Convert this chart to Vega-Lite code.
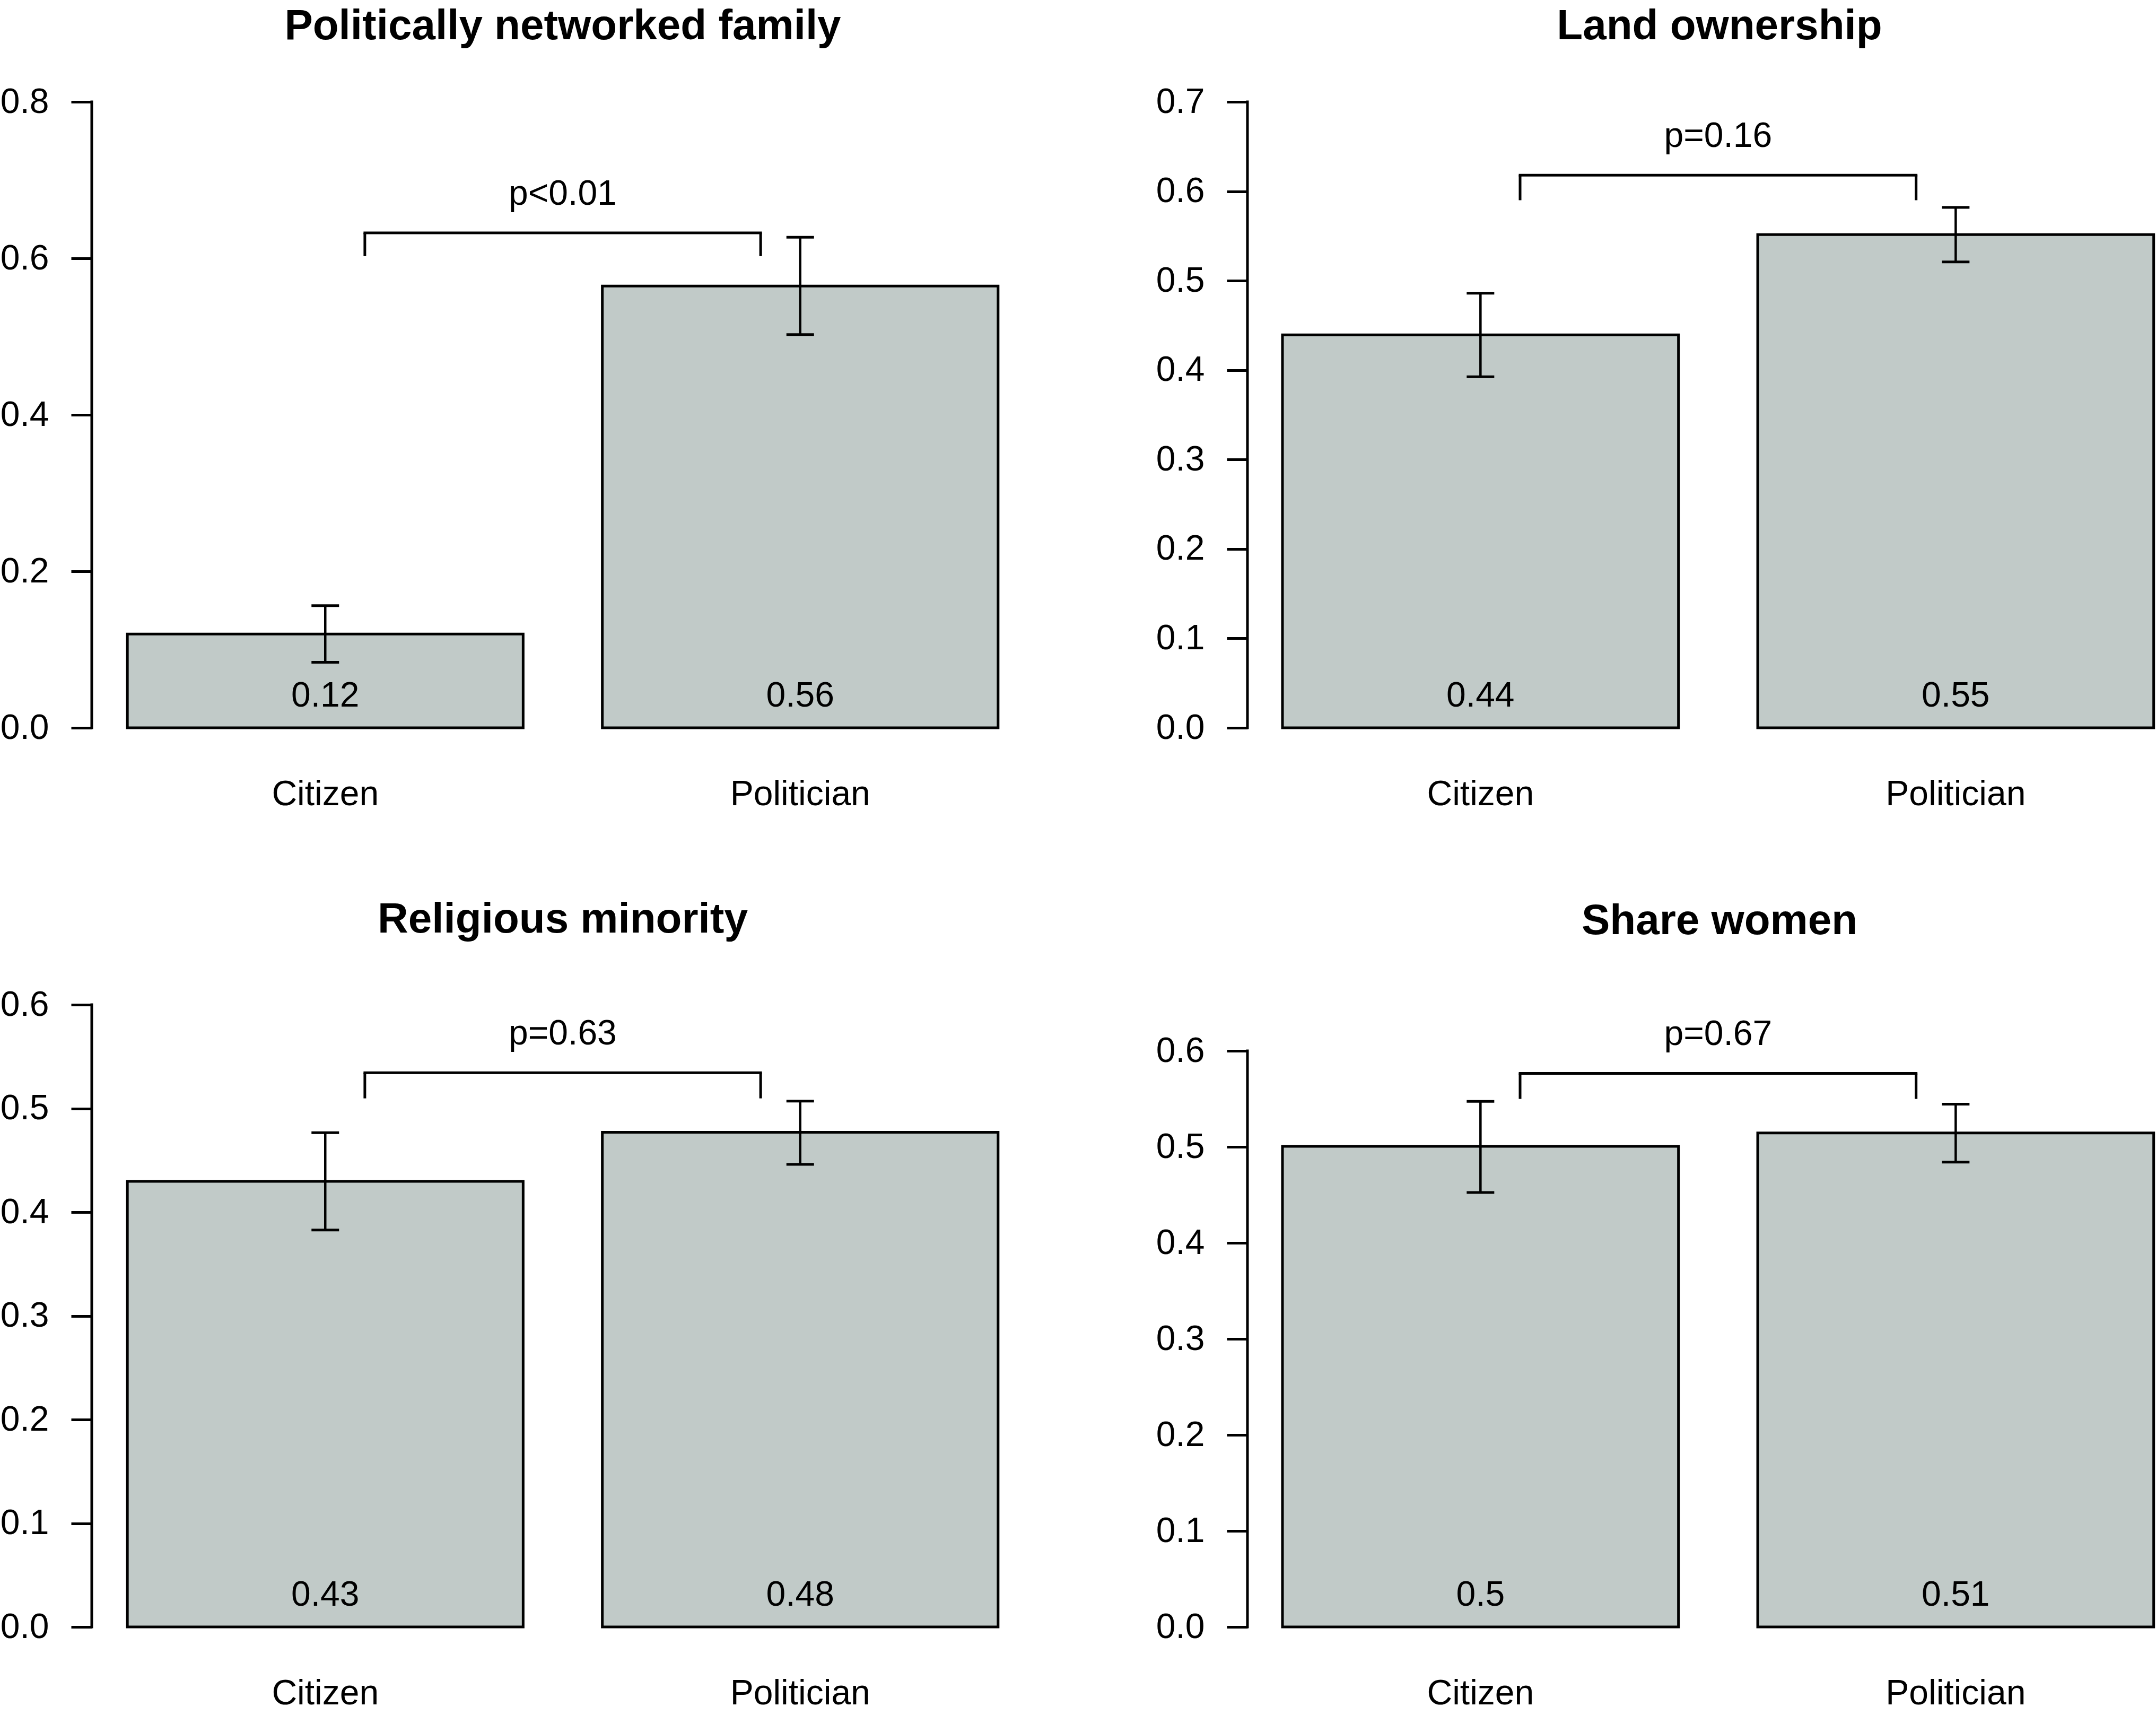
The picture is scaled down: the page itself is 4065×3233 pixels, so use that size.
{
  "$schema": "https://vega.github.io/schema/vega-lite/v6.json",
  "background": "white",
  "padding": {"left": 0, "top": 10, "right": 0, "bottom": 0},
  "autosize": {"type": "pad"},
  "columns": 2,
  "bounds": "flush",
  "align": "each",
  "spacing": {"row": 515, "column": 403},
  "datasets": {
    "bars": [
      {"panel": "Politically networked family", "group": "Citizen", "mean": 0.1198, "lo": 0.0838, "hi": 0.1561},
      {"panel": "Politically networked family", "group": "Politician", "mean": 0.5645, "lo": 0.5026, "hi": 0.6269},
      {"panel": "Land ownership", "group": "Citizen", "mean": 0.4395, "lo": 0.3926, "hi": 0.486},
      {"panel": "Land ownership", "group": "Politician", "mean": 0.5516, "lo": 0.521, "hi": 0.582},
      {"panel": "Religious minority", "group": "Citizen", "mean": 0.4297, "lo": 0.3828, "hi": 0.4766},
      {"panel": "Religious minority", "group": "Politician", "mean": 0.477, "lo": 0.4461, "hi": 0.507},
      {"panel": "Share women", "group": "Citizen", "mean": 0.5006, "lo": 0.4526, "hi": 0.5475},
      {"panel": "Share women", "group": "Politician", "mean": 0.5146, "lo": 0.4841, "hi": 0.5445}
    ],
    "brackets": [
      {"panel": "Politically networked family", "left": "Citizen", "right": "Politician", "top": 0.6326, "foot": 0.6028, "p": "p<0.01"},
      {"panel": "Land ownership", "left": "Citizen", "right": "Politician", "top": 0.618, "foot": 0.59, "p": "p=0.16"},
      {"panel": "Religious minority", "left": "Citizen", "right": "Politician", "top": 0.5344, "foot": 0.5097, "p": "p=0.63"},
      {"panel": "Share women", "left": "Citizen", "right": "Politician", "top": 0.5766, "foot": 0.55, "p": "p=0.67"}
    ]
  },
  "config": {
    "view": {"stroke": null},
    "font": "Liberation Sans",
    "axis": {
      "grid": false,
      "domain": false,
      "labelFont": "Liberation Sans",
      "labelFontSize": 66,
      "labelColor": "black",
      "labelLimit": 1000,
      "tickColor": "black",
      "tickWidth": 5,
      "labelOverlap": false,
      "labelFlush": false,
      "labelBound": false
    },
    "axisY": {"tickSize": 39, "labelPadding": 42},
    "axisX": {"ticks": false, "tickSize": 0, "labelPadding": 145, "labelBaseline": "alphabetic", "labelAngle": 0},
    "title": {
      "font": "Liberation Sans",
      "fontSize": 80,
      "fontWeight": "bold",
      "color": "black",
      "baseline": "alphabetic",
      "frame": "group",
      "anchor": "middle",
      "limit": 0
    },
    "text": {"font": "Liberation Sans", "fontSize": 66, "color": "black", "baseline": "alphabetic"}
  },
  "concat": [
    {
      "width": 1776,
      "height": 1180,
      "title": {"text": "Politically networked family", "offset": 68},
      "encoding": {
        "x": {"field": "group", "type": "nominal", "title": null, "scale": {"paddingInner": 0.1667, "paddingOuter": 0.075}}
      },
      "layer": [
        {
          "data": {"name": "brackets"},
          "transform": [{"filter": "datum.panel == 'Politically networked family'"}],
          "mark": {"type": "rule", "color": "black", "strokeWidth": 5, "strokeCap": "square"},
          "encoding": {
            "x": {"value": 0},
            "y": {"datum": 0, "type": "quantitative", "scale": {"domain": [0, 0.8], "nice": false}},
            "y2": {"datum": 0.8}
          }
        },
        {
          "data": {"name": "bars"},
          "transform": [{"filter": "datum.panel == 'Politically networked family'"}],
          "mark": {"type": "bar", "fill": "#c1cac8", "stroke": "black", "strokeWidth": 5},
          "encoding": {
            "y": {"field": "mean", "type": "quantitative", "title": null, "scale": {"domain": [0, 0.8], "nice": false}, "axis": {"values": [0, 0.2, 0.4, 0.6, 0.8], "format": ".1f"}}
          }
        },
        {
          "data": {"name": "bars"},
          "transform": [{"filter": "datum.panel == 'Politically networked family'"}],
          "mark": {"type": "rule", "color": "black", "strokeWidth": 4.5},
          "encoding": {
            "y": {"field": "lo", "type": "quantitative", "title": null, "scale": {"domain": [0, 0.8], "nice": false}},
            "y2": {"field": "hi"}
          }
        },
        {
          "data": {"name": "bars"},
          "transform": [{"filter": "datum.panel == 'Politically networked family'"}],
          "mark": {"type": "tick", "size": 52, "thickness": 5, "color": "black", "opacity": 1},
          "encoding": {
            "y": {"field": "lo", "type": "quantitative", "title": null, "scale": {"domain": [0, 0.8], "nice": false}}
          }
        },
        {
          "data": {"name": "bars"},
          "transform": [{"filter": "datum.panel == 'Politically networked family'"}],
          "mark": {"type": "tick", "size": 52, "thickness": 5, "color": "black", "opacity": 1},
          "encoding": {
            "y": {"field": "hi", "type": "quantitative", "title": null, "scale": {"domain": [0, 0.8], "nice": false}}
          }
        },
        {
          "data": {"name": "bars"},
          "transform": [{"filter": "datum.panel == 'Politically networked family'"}],
          "mark": {"type": "text", "dy": -40},
          "encoding": {
            "y": {"datum": 0, "type": "quantitative", "scale": {"domain": [0, 0.8], "nice": false}},
            "text": {"field": "mean", "type": "quantitative", "format": ".2~f"}
          }
        },
        {
          "data": {"name": "brackets"},
          "transform": [{"filter": "datum.panel == 'Politically networked family'"}],
          "mark": {"type": "rule", "color": "black", "strokeWidth": 5, "strokeCap": "square"},
          "encoding": {
            "x": {"field": "left", "type": "nominal", "title": null, "bandPosition": 0.6},
            "x2": {"field": "right", "bandPosition": 0.4},
            "y": {"field": "top", "type": "quantitative", "title": null, "scale": {"domain": [0, 0.8], "nice": false}}
          }
        },
        {
          "data": {"name": "brackets"},
          "transform": [{"filter": "datum.panel == 'Politically networked family'"}],
          "mark": {"type": "rule", "color": "black", "strokeWidth": 5},
          "encoding": {
            "x": {"field": "left", "type": "nominal", "title": null, "bandPosition": 0.6},
            "y": {"field": "top", "type": "quantitative", "title": null, "scale": {"domain": [0, 0.8], "nice": false}},
            "y2": {"field": "foot"}
          }
        },
        {
          "data": {"name": "brackets"},
          "transform": [{"filter": "datum.panel == 'Politically networked family'"}],
          "mark": {"type": "rule", "color": "black", "strokeWidth": 5},
          "encoding": {
            "x": {"field": "right", "type": "nominal", "title": null, "bandPosition": 0.4},
            "y": {"field": "top", "type": "quantitative", "title": null, "scale": {"domain": [0, 0.8], "nice": false}},
            "y2": {"field": "foot"}
          }
        },
        {
          "data": {"name": "brackets"},
          "transform": [{"filter": "datum.panel == 'Politically networked family'"}],
          "mark": {"type": "text", "dy": -53},
          "encoding": {
            "x": {"field": "left", "type": "nominal", "title": null, "bandPosition": 1.1},
            "y": {"field": "top", "type": "quantitative", "title": null, "scale": {"domain": [0, 0.8], "nice": false}},
            "text": {"field": "p"}
          }
        }
      ]
    },
    {
      "width": 1712,
      "height": 1180,
      "title": {"text": "Land ownership", "dx": 34, "offset": 68},
      "encoding": {
        "x": {"field": "group", "type": "nominal", "title": null, "scale": {"paddingInner": 0.1667, "paddingOuter": 0.0387, "align": 0.952}}
      },
      "layer": [
        {
          "data": {"name": "brackets"},
          "transform": [{"filter": "datum.panel == 'Land ownership'"}],
          "mark": {"type": "rule", "color": "black", "strokeWidth": 5, "strokeCap": "square"},
          "encoding": {
            "x": {"value": 0},
            "y": {"datum": 0, "type": "quantitative", "scale": {"domain": [0, 0.7], "nice": false}},
            "y2": {"datum": 0.7}
          }
        },
        {
          "data": {"name": "bars"},
          "transform": [{"filter": "datum.panel == 'Land ownership'"}],
          "mark": {"type": "bar", "fill": "#c1cac8", "stroke": "black", "strokeWidth": 5},
          "encoding": {
            "y": {"field": "mean", "type": "quantitative", "title": null, "scale": {"domain": [0, 0.7], "nice": false}, "axis": {"values": [0, 0.1, 0.2, 0.3, 0.4, 0.5, 0.6, 0.7], "format": ".1f"}}
          }
        },
        {
          "data": {"name": "bars"},
          "transform": [{"filter": "datum.panel == 'Land ownership'"}],
          "mark": {"type": "rule", "color": "black", "strokeWidth": 4.5},
          "encoding": {
            "y": {"field": "lo", "type": "quantitative", "title": null, "scale": {"domain": [0, 0.7], "nice": false}},
            "y2": {"field": "hi"}
          }
        },
        {
          "data": {"name": "bars"},
          "transform": [{"filter": "datum.panel == 'Land ownership'"}],
          "mark": {"type": "tick", "size": 52, "thickness": 5, "color": "black", "opacity": 1},
          "encoding": {
            "y": {"field": "lo", "type": "quantitative", "title": null, "scale": {"domain": [0, 0.7], "nice": false}}
          }
        },
        {
          "data": {"name": "bars"},
          "transform": [{"filter": "datum.panel == 'Land ownership'"}],
          "mark": {"type": "tick", "size": 52, "thickness": 5, "color": "black", "opacity": 1},
          "encoding": {
            "y": {"field": "hi", "type": "quantitative", "title": null, "scale": {"domain": [0, 0.7], "nice": false}}
          }
        },
        {
          "data": {"name": "bars"},
          "transform": [{"filter": "datum.panel == 'Land ownership'"}],
          "mark": {"type": "text", "dy": -40},
          "encoding": {
            "y": {"datum": 0, "type": "quantitative", "scale": {"domain": [0, 0.7], "nice": false}},
            "text": {"field": "mean", "type": "quantitative", "format": ".2~f"}
          }
        },
        {
          "data": {"name": "brackets"},
          "transform": [{"filter": "datum.panel == 'Land ownership'"}],
          "mark": {"type": "rule", "color": "black", "strokeWidth": 5, "strokeCap": "square"},
          "encoding": {
            "x": {"field": "left", "type": "nominal", "title": null, "bandPosition": 0.6},
            "x2": {"field": "right", "bandPosition": 0.4},
            "y": {"field": "top", "type": "quantitative", "title": null, "scale": {"domain": [0, 0.7], "nice": false}}
          }
        },
        {
          "data": {"name": "brackets"},
          "transform": [{"filter": "datum.panel == 'Land ownership'"}],
          "mark": {"type": "rule", "color": "black", "strokeWidth": 5},
          "encoding": {
            "x": {"field": "left", "type": "nominal", "title": null, "bandPosition": 0.6},
            "y": {"field": "top", "type": "quantitative", "title": null, "scale": {"domain": [0, 0.7], "nice": false}},
            "y2": {"field": "foot"}
          }
        },
        {
          "data": {"name": "brackets"},
          "transform": [{"filter": "datum.panel == 'Land ownership'"}],
          "mark": {"type": "rule", "color": "black", "strokeWidth": 5},
          "encoding": {
            "x": {"field": "right", "type": "nominal", "title": null, "bandPosition": 0.4},
            "y": {"field": "top", "type": "quantitative", "title": null, "scale": {"domain": [0, 0.7], "nice": false}},
            "y2": {"field": "foot"}
          }
        },
        {
          "data": {"name": "brackets"},
          "transform": [{"filter": "datum.panel == 'Land ownership'"}],
          "mark": {"type": "text", "dy": -53},
          "encoding": {
            "x": {"field": "left", "type": "nominal", "title": null, "bandPosition": 1.1},
            "y": {"field": "top", "type": "quantitative", "title": null, "scale": {"domain": [0, 0.7], "nice": false}},
            "text": {"field": "p"}
          }
        }
      ]
    },
    {
      "width": 1776,
      "height": 1180,
      "title": {"text": "Religious minority", "offset": 86},
      "encoding": {
        "x": {"field": "group", "type": "nominal", "title": null, "scale": {"paddingInner": 0.1667, "paddingOuter": 0.075}}
      },
      "layer": [
        {
          "data": {"name": "brackets"},
          "transform": [{"filter": "datum.panel == 'Religious minority'"}],
          "mark": {"type": "rule", "color": "black", "strokeWidth": 5, "strokeCap": "square"},
          "encoding": {
            "x": {"value": 0},
            "y": {"datum": 0, "type": "quantitative", "scale": {"domain": [0, 0.6036], "nice": false}},
            "y2": {"datum": 0.6}
          }
        },
        {
          "data": {"name": "bars"},
          "transform": [{"filter": "datum.panel == 'Religious minority'"}],
          "mark": {"type": "bar", "fill": "#c1cac8", "stroke": "black", "strokeWidth": 5},
          "encoding": {
            "y": {"field": "mean", "type": "quantitative", "title": null, "scale": {"domain": [0, 0.6036], "nice": false}, "axis": {"values": [0, 0.1, 0.2, 0.3, 0.4, 0.5, 0.6], "format": ".1f"}}
          }
        },
        {
          "data": {"name": "bars"},
          "transform": [{"filter": "datum.panel == 'Religious minority'"}],
          "mark": {"type": "rule", "color": "black", "strokeWidth": 4.5},
          "encoding": {
            "y": {"field": "lo", "type": "quantitative", "title": null, "scale": {"domain": [0, 0.6036], "nice": false}},
            "y2": {"field": "hi"}
          }
        },
        {
          "data": {"name": "bars"},
          "transform": [{"filter": "datum.panel == 'Religious minority'"}],
          "mark": {"type": "tick", "size": 52, "thickness": 5, "color": "black", "opacity": 1},
          "encoding": {
            "y": {"field": "lo", "type": "quantitative", "title": null, "scale": {"domain": [0, 0.6036], "nice": false}}
          }
        },
        {
          "data": {"name": "bars"},
          "transform": [{"filter": "datum.panel == 'Religious minority'"}],
          "mark": {"type": "tick", "size": 52, "thickness": 5, "color": "black", "opacity": 1},
          "encoding": {
            "y": {"field": "hi", "type": "quantitative", "title": null, "scale": {"domain": [0, 0.6036], "nice": false}}
          }
        },
        {
          "data": {"name": "bars"},
          "transform": [{"filter": "datum.panel == 'Religious minority'"}],
          "mark": {"type": "text", "dy": -40},
          "encoding": {
            "y": {"datum": 0, "type": "quantitative", "scale": {"domain": [0, 0.6036], "nice": false}},
            "text": {"field": "mean", "type": "quantitative", "format": ".2~f"}
          }
        },
        {
          "data": {"name": "brackets"},
          "transform": [{"filter": "datum.panel == 'Religious minority'"}],
          "mark": {"type": "rule", "color": "black", "strokeWidth": 5, "strokeCap": "square"},
          "encoding": {
            "x": {"field": "left", "type": "nominal", "title": null, "bandPosition": 0.6},
            "x2": {"field": "right", "bandPosition": 0.4},
            "y": {"field": "top", "type": "quantitative", "title": null, "scale": {"domain": [0, 0.6036], "nice": false}}
          }
        },
        {
          "data": {"name": "brackets"},
          "transform": [{"filter": "datum.panel == 'Religious minority'"}],
          "mark": {"type": "rule", "color": "black", "strokeWidth": 5},
          "encoding": {
            "x": {"field": "left", "type": "nominal", "title": null, "bandPosition": 0.6},
            "y": {"field": "top", "type": "quantitative", "title": null, "scale": {"domain": [0, 0.6036], "nice": false}},
            "y2": {"field": "foot"}
          }
        },
        {
          "data": {"name": "brackets"},
          "transform": [{"filter": "datum.panel == 'Religious minority'"}],
          "mark": {"type": "rule", "color": "black", "strokeWidth": 5},
          "encoding": {
            "x": {"field": "right", "type": "nominal", "title": null, "bandPosition": 0.4},
            "y": {"field": "top", "type": "quantitative", "title": null, "scale": {"domain": [0, 0.6036], "nice": false}},
            "y2": {"field": "foot"}
          }
        },
        {
          "data": {"name": "brackets"},
          "transform": [{"filter": "datum.panel == 'Religious minority'"}],
          "mark": {"type": "text", "dy": -53},
          "encoding": {
            "x": {"field": "left", "type": "nominal", "title": null, "bandPosition": 1.1},
            "y": {"field": "top", "type": "quantitative", "title": null, "scale": {"domain": [0, 0.6036], "nice": false}},
            "text": {"field": "p"}
          }
        }
      ]
    },
    {
      "width": 1712,
      "height": 1180,
      "title": {"text": "Share women", "dx": 34, "offset": 109},
      "encoding": {
        "x": {"field": "group", "type": "nominal", "title": null, "scale": {"paddingInner": 0.1667, "paddingOuter": 0.0387, "align": 0.952}}
      },
      "layer": [
        {
          "data": {"name": "brackets"},
          "transform": [{"filter": "datum.panel == 'Share women'"}],
          "mark": {"type": "rule", "color": "black", "strokeWidth": 5, "strokeCap": "square"},
          "encoding": {
            "x": {"value": 0},
            "y": {"datum": 0, "type": "quantitative", "scale": {"domain": [0, 0.652], "nice": false}},
            "y2": {"datum": 0.6}
          }
        },
        {
          "data": {"name": "bars"},
          "transform": [{"filter": "datum.panel == 'Share women'"}],
          "mark": {"type": "bar", "fill": "#c1cac8", "stroke": "black", "strokeWidth": 5},
          "encoding": {
            "y": {"field": "mean", "type": "quantitative", "title": null, "scale": {"domain": [0, 0.652], "nice": false}, "axis": {"values": [0, 0.1, 0.2, 0.3, 0.4, 0.5, 0.6], "format": ".1f"}}
          }
        },
        {
          "data": {"name": "bars"},
          "transform": [{"filter": "datum.panel == 'Share women'"}],
          "mark": {"type": "rule", "color": "black", "strokeWidth": 4.5},
          "encoding": {
            "y": {"field": "lo", "type": "quantitative", "title": null, "scale": {"domain": [0, 0.652], "nice": false}},
            "y2": {"field": "hi"}
          }
        },
        {
          "data": {"name": "bars"},
          "transform": [{"filter": "datum.panel == 'Share women'"}],
          "mark": {"type": "tick", "size": 52, "thickness": 5, "color": "black", "opacity": 1},
          "encoding": {
            "y": {"field": "lo", "type": "quantitative", "title": null, "scale": {"domain": [0, 0.652], "nice": false}}
          }
        },
        {
          "data": {"name": "bars"},
          "transform": [{"filter": "datum.panel == 'Share women'"}],
          "mark": {"type": "tick", "size": 52, "thickness": 5, "color": "black", "opacity": 1},
          "encoding": {
            "y": {"field": "hi", "type": "quantitative", "title": null, "scale": {"domain": [0, 0.652], "nice": false}}
          }
        },
        {
          "data": {"name": "bars"},
          "transform": [{"filter": "datum.panel == 'Share women'"}],
          "mark": {"type": "text", "dy": -40},
          "encoding": {
            "y": {"datum": 0, "type": "quantitative", "scale": {"domain": [0, 0.652], "nice": false}},
            "text": {"field": "mean", "type": "quantitative", "format": ".2~f"}
          }
        },
        {
          "data": {"name": "brackets"},
          "transform": [{"filter": "datum.panel == 'Share women'"}],
          "mark": {"type": "rule", "color": "black", "strokeWidth": 5, "strokeCap": "square"},
          "encoding": {
            "x": {"field": "left", "type": "nominal", "title": null, "bandPosition": 0.6},
            "x2": {"field": "right", "bandPosition": 0.4},
            "y": {"field": "top", "type": "quantitative", "title": null, "scale": {"domain": [0, 0.652], "nice": false}}
          }
        },
        {
          "data": {"name": "brackets"},
          "transform": [{"filter": "datum.panel == 'Share women'"}],
          "mark": {"type": "rule", "color": "black", "strokeWidth": 5},
          "encoding": {
            "x": {"field": "left", "type": "nominal", "title": null, "bandPosition": 0.6},
            "y": {"field": "top", "type": "quantitative", "title": null, "scale": {"domain": [0, 0.652], "nice": false}},
            "y2": {"field": "foot"}
          }
        },
        {
          "data": {"name": "brackets"},
          "transform": [{"filter": "datum.panel == 'Share women'"}],
          "mark": {"type": "rule", "color": "black", "strokeWidth": 5},
          "encoding": {
            "x": {"field": "right", "type": "nominal", "title": null, "bandPosition": 0.4},
            "y": {"field": "top", "type": "quantitative", "title": null, "scale": {"domain": [0, 0.652], "nice": false}},
            "y2": {"field": "foot"}
          }
        },
        {
          "data": {"name": "brackets"},
          "transform": [{"filter": "datum.panel == 'Share women'"}],
          "mark": {"type": "text", "dy": -53},
          "encoding": {
            "x": {"field": "left", "type": "nominal", "title": null, "bandPosition": 1.1},
            "y": {"field": "top", "type": "quantitative", "title": null, "scale": {"domain": [0, 0.652], "nice": false}},
            "text": {"field": "p"}
          }
        }
      ]
    }
  ]
}
